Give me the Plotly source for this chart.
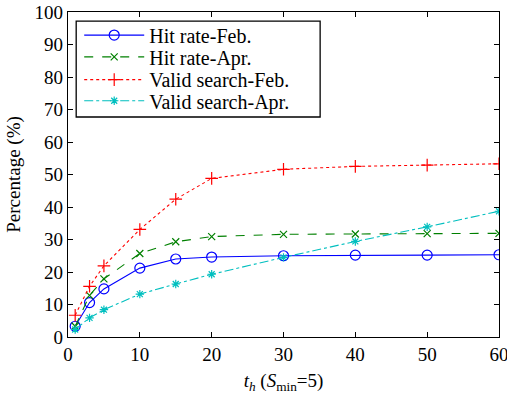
import plotly.graph_objects as go

th = [1, 3, 5, 10, 15, 20, 30, 40, 50, 60]
hit_feb = [3.3, 10.6, 14.8, 21.2, 24.0, 24.6, 25.0, 25.2, 25.2, 25.3]
hit_apr = [3.3, 12.8, 17.9, 25.7, 29.3, 30.9, 31.6, 31.7, 31.8, 31.9]
valid_feb = [6.7, 15.6, 21.9, 33.1, 42.4, 48.8, 51.6, 52.5, 52.9, 53.3]
valid_apr = [2.3, 5.9, 8.4, 13.2, 16.3, 19.3, 24.5, 29.4, 33.9, 38.7]

series = [
    ("Hit rate-Feb.", hit_feb, "#0000ff", "solid", "circle-open", 10),
    ("Hit rate-Apr.", hit_apr, "#008000", "dash", "x-thin-open", 7),
    ("Valid search-Feb.", valid_feb, "#ff0000", "dot", "cross-thin-open", 9),
    ("Valid search-Apr.", valid_apr, "#00bfbf", "dashdot", "asterisk-open", 7),
]
legend_names = ["legend", "legend2", "legend3", "legend4"]
legend_y = [0.929, 0.862, 0.792, 0.727]

FONT = "Liberation Serif"
fig = go.Figure()
for (name, ys, col, dash, sym, size), lg in zip(series, legend_names):
    fig.add_trace(go.Scatter(
        x=th, y=ys, name=name, mode="lines+markers", legend=lg,
        line=dict(color=col, width=1.1, dash=dash),
        marker=dict(symbol=sym, size=size, color=col, line=dict(color=col, width=1.2)),
    ))

axis_common = dict(
    showline=True, linecolor="black", linewidth=1.2, mirror="ticks",
    ticks="inside", ticklen=5, tickcolor="black", showgrid=False, zeroline=False,
    automargin=False, ticklabeloverflow="allow",
    tickfont=dict(family=FONT, size=19, color="black"),
)
# legend frame
fig.add_shape(type="rect", xref="paper", yref="paper",
              x0=0.019, x1=0.585, y0=0.677, y1=0.972,
              line=dict(color="black", width=1.3), fillcolor="white", layer="below")

legends = {}
for lg, ly in zip(legend_names, legend_y):
    legends[lg] = dict(x=0.026, y=ly, xanchor="left", yanchor="middle",
                       bgcolor="rgba(0,0,0,0)", borderwidth=0,
                       font=dict(family=FONT, size=20, color="black"), itemwidth=60)

fig.update_layout(
    width=507, height=394,
    margin=dict(l=68, r=8, t=12, b=57),
    paper_bgcolor="white", plot_bgcolor="rgba(0,0,0,0)",
    font=dict(family=FONT, color="black"),
    xaxis=dict(range=[0, 60], tickvals=[0, 10, 20, 30, 40, 50, 60], **axis_common,
               title=dict(text="<i>t</i><sub><i>h</i></sub> (<i>S</i><sub>min</sub>=5)",
                          font=dict(family=FONT, size=19), standoff=14)),
    yaxis=dict(range=[0, 100], tickvals=list(range(0, 101, 10)), **axis_common,
               title=dict(text="Percentage (%)", font=dict(family=FONT, size=19), standoff=8)),
    showlegend=True,
    **legends,
)
fig.write_html("out.html")
